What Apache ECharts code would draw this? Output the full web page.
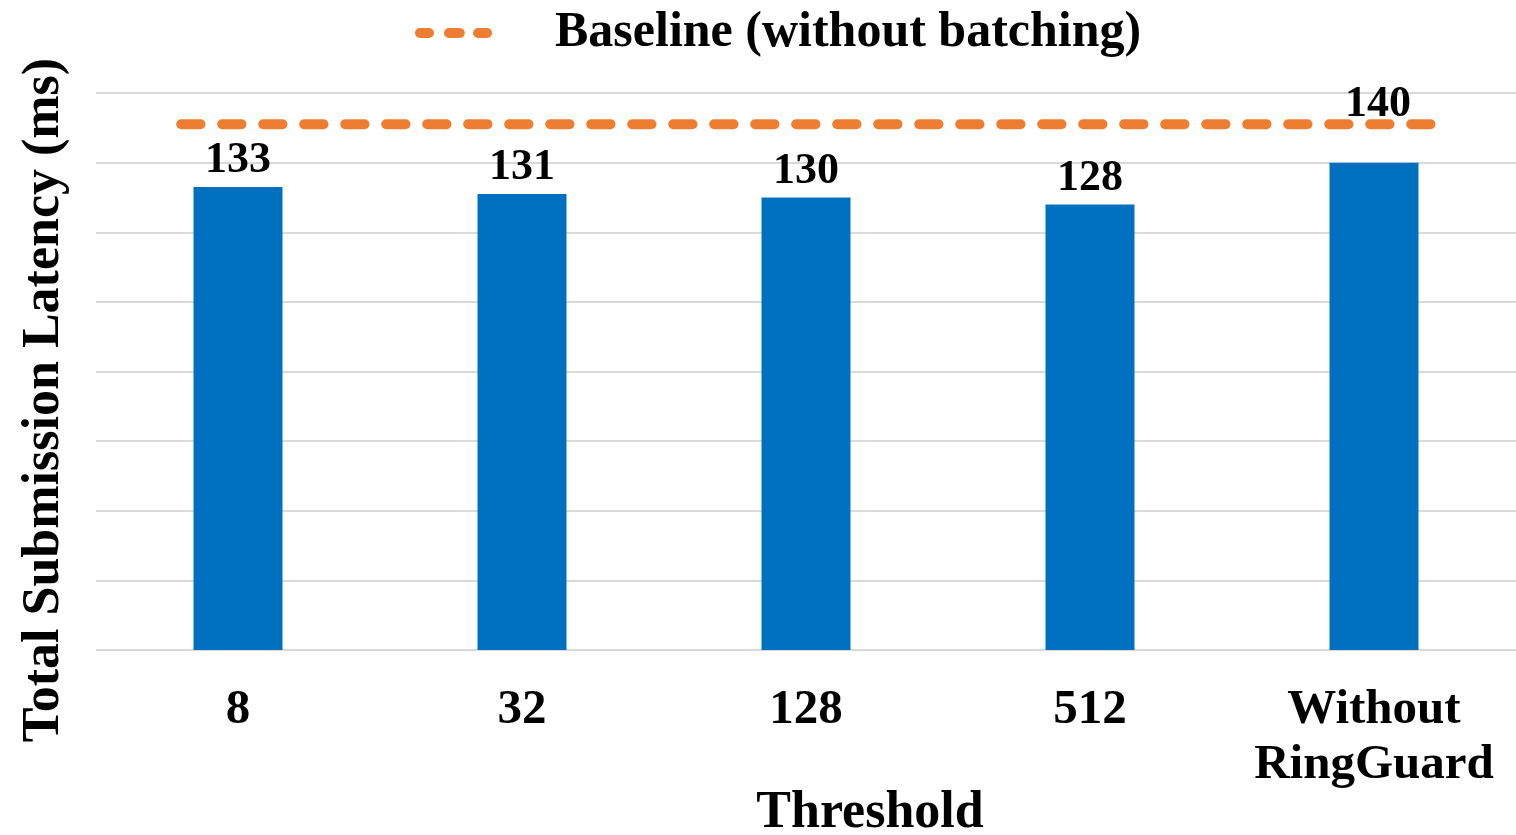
<!DOCTYPE html>
<html>
<head>
<meta charset="utf-8">
<script src="https://cdn.jsdelivr.net/npm/echarts@6/dist/echarts.min.js"></script>
<style>
html,body{margin:0;padding:0;background:#fff;}
#chart{width:1516px;height:835px;}
</style>
</head>
<body>
<div id="chart"></div>
<script>
var categories = ['8', '32', '128', '512', 'Without\nRingGuard'];
var latency = [133, 131, 130, 128, 140];
var baselineValue = 151;
var baselineSpan = [-0.2, 4.2];
var yTicks = {min: 0, max: 160, interval: 20};

var FONT = '"Liberation Serif","Times New Roman",serif';
var chart = echarts.init(document.getElementById('chart'));

var barData = latency.map(function (v, i) {
  var item = {value: v};
  if (i === latency.length - 1) {
    item.label = {offset: [4, -32]};
  }
  return item;
});

chart.setOption({
  animation: false,
  backgroundColor: '#ffffff',
  legend: {
    data: ['Baseline (without batching)'],
    left: 410,
    top: 3,
    itemWidth: 80,
    itemHeight: 12,
    textStyle: {
      fontFamily: FONT, fontWeight: 'bold', fontSize: 50, color: '#000',
      padding: [0, 0, 0, 50]
    },
    lineStyle: {type: [9, 20], width: 10, cap: 'round', color: '#ED7D31'}
  },
  grid: {left: 96, top: 93, width: 1425, bottom: 185, containLabel: false},
  xAxis: [{
    type: 'category',
    data: categories,
    axisLine: {show: false},
    axisTick: {show: false},
    axisLabel: {
      interval: 0,
      fontFamily: FONT, fontWeight: 'bold', fontSize: 49, color: '#000',
      lineHeight: 55, margin: 33
    }
  }, {
    type: 'value',
    min: -0.5, max: 4.5,
    show: false
  }],
  yAxis: {
    type: 'value',
    min: yTicks.min, max: yTicks.max, interval: yTicks.interval,
    axisLabel: {show: false},
    axisLine: {show: false},
    axisTick: {show: false},
    splitLine: {lineStyle: {color: '#D9D9D9', width: 2}}
  },
  title: {
    text: 'Threshold',
    left: 865,
    top: 783,
    textAlign: 'center',
    textStyle: {fontFamily: FONT, fontWeight: 'bold', fontSize: 52, color: '#000'}
  },
  graphic: [{
    type: 'text',
    x: 45, y: 400,
    rotation: Math.PI / 2,
    style: {
      text: 'Total Submission Latency (ms)',
      fontFamily: FONT, fontWeight: 'bold', fontSize: 52, fill: '#000',
      align: 'center', verticalAlign: 'middle'
    }
  }],
  series: [{
    type: 'bar',
    name: 'Latency',
    data: barData,
    barWidth: 89,
    itemStyle: {color: '#0070C0'},
    label: {
      show: true, position: 'top', distance: 4,
      fontFamily: FONT, fontWeight: 'bold', fontSize: 44, color: '#000'
    }
  }, {
    type: 'line',
    name: 'Baseline (without batching)',
    xAxisIndex: 1,
    data: baselineSpan.map(function (x) { return [x, baselineValue]; }),
    symbol: 'none',
    z: 5,
    lineStyle: {color: '#ED7D31', width: 10, type: [19.3, 21.7], cap: 'round'},
    itemStyle: {color: '#ED7D31'}
  }]
});
</script>
</body>
</html>
